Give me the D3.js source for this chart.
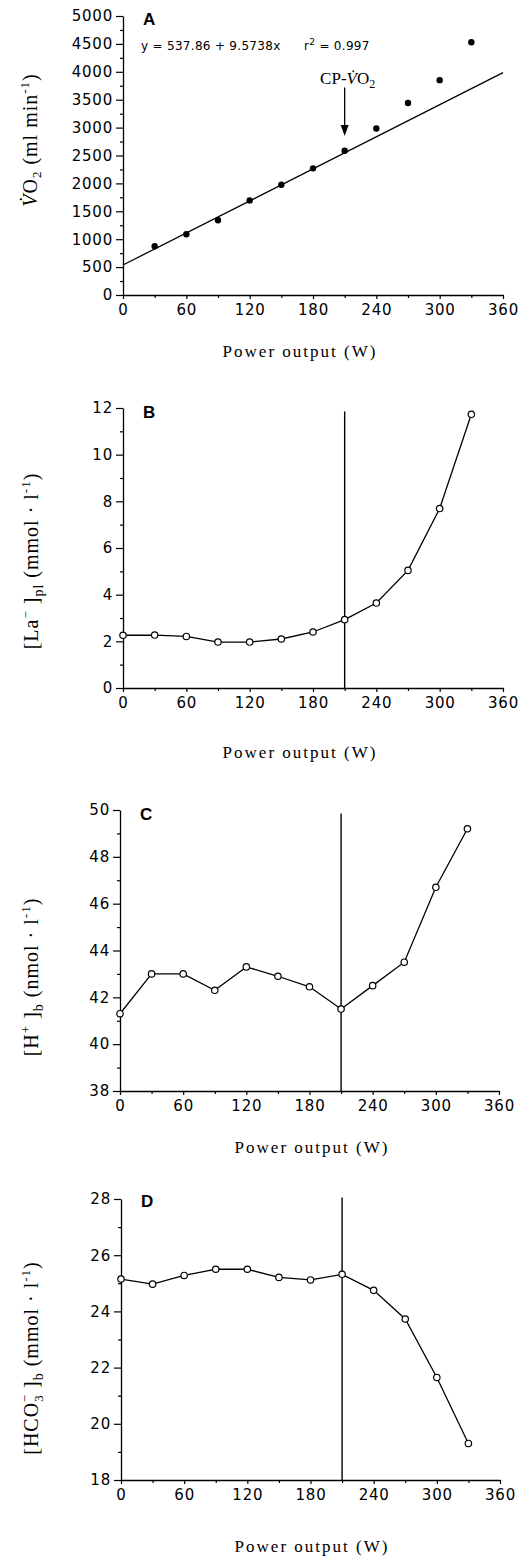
<!DOCTYPE html>
<html><head><meta charset="utf-8">
<script src="https://cdn.jsdelivr.net/npm/d3@7"></script>
<style>body{margin:0;background:#fff}svg{display:block}</style>
</head><body>
<svg id="c" width="524" height="1559"></svg>
<script>
// ---- data ----
const power = [0, 30, 60, 90, 120, 150, 180, 210, 240, 270, 300, 330];
const vo2Power = [30, 60, 90, 120, 150, 180, 210, 240, 270, 300, 330];
const vo2 = [875, 1090, 1340, 1695, 1975, 2270, 2585, 2985, 3440, 3850, 4530];
const lactate = [2.26, 2.27, 2.21, 1.97, 1.97, 2.1, 2.4, 2.93, 3.64, 5.04, 7.69, 11.73];
const hplus = [41.3, 43.0, 43.0, 42.3, 43.3, 42.9, 42.45, 41.5, 42.5, 43.5, 46.7, 49.2];
const bicarb = [25.15, 24.97, 25.28, 25.5, 25.5, 25.21, 25.12, 25.32, 24.75, 23.73, 21.65, 19.3];
const xTicks = [0, 60, 120, 180, 240, 300, 360];
const xMinor = [30, 90, 150, 210, 270, 330];
const vo2Ticks = [0, 500, 1000, 1500, 2000, 2500, 3000, 3500, 4000, 4500, 5000];
const laTicks = [0, 2, 4, 6, 8, 10, 12];
const hTicks = [38, 40, 42, 44, 46, 48, 50];
const hcoTicks = [18, 20, 22, 24, 26, 28];
const regIntercept = 537.86, regSlope = 9.5738;
const cpPower = 210;
const arrowFrom = 3720, arrowTo = 2850;
const xTitle = "Power output (W)";

const svg = d3.select("#c");
const TICKFONT = "'DejaVu Sans', Verdana, sans-serif";
const SERIF = "'Liberation Serif', 'Times New Roman', serif";
const fmt = d3.format("d");

function panel(o) {
  const x = d3.scaleLinear().domain([0, 360]).range([o.left, o.right]);
  const y = d3.scaleLinear().domain(o.yDomain).range([o.bottom, o.top]);
  const g = svg.append("g");
  // minor ticks
  g.append("g").attr("transform", `translate(0,${o.bottom})`)
    .call(d3.axisBottom(x).tickValues(xMinor).tickSize(3).tickFormat(""))
    .call(s => s.select(".domain").remove());
  g.append("g").attr("transform", `translate(${o.left},0)`)
    .call(d3.axisLeft(y).tickValues(o.yMinor).tickSize(3).tickFormat(""))
    .call(s => s.select(".domain").remove());
  const xa = g.append("g").attr("transform", `translate(0,${o.bottom})`)
    .call(d3.axisBottom(x).tickValues(xTicks).tickFormat(fmt).tickSize(4).tickSizeOuter(0).tickPadding(5));
  const ya = g.append("g").attr("transform", `translate(${o.left},0)`)
    .call(d3.axisLeft(y).tickValues(o.yTicks).tickFormat(fmt).tickSize(7).tickSizeOuter(0).tickPadding(3));
  [xa, ya].forEach(a => {
    a.selectAll("text").attr("font-family", TICKFONT).attr("font-size", 15)
      .attr("letter-spacing", 0.8).attr("fill", "#000");
    a.selectAll("line,path").attr("stroke", "#000").attr("stroke-width", 1.3);
  });
  g.selectAll("g.tick line").attr("stroke", "#000").attr("stroke-width", 1.2);
  // x title
  g.append("text").attr("x", o.xTitleX).attr("y", o.xTitleY)
    .attr("text-anchor", "middle").attr("font-family", SERIF).attr("font-size", 17)
    .attr("letter-spacing", 2).text(xTitle);
  // panel letter
  g.append("text").attr("x", o.left + 20).attr("y", o.letterY)
    .attr("font-family", "'Liberation Sans', Arial, sans-serif").attr("font-weight", "bold")
    .attr("font-size", 17).text(o.letter);
  // y title
  const yt = g.append("text")
    .attr("transform", `translate(${o.yTitleX},${o.yTitleY}) rotate(-90)`)
    .attr("text-anchor", "middle").attr("font-family", SERIF).attr("font-size", 20)
    .attr("letter-spacing", 1);
  o.yTitle(yt);
  return {x, y, g};
}

// ---- Panel A ----
{
  const p = panel({left: 123, right: 503, top: 16, bottom: 295, yDomain: [0, 5000],
    yTicks: vo2Ticks, yMinor: d3.range(250, 5000, 500), letter: "A", letterY: 25,
    xTitleX: 300, xTitleY: 357, yTitleX: 37, yTitleY: 140,
    yTitle: t => {
      t.append("tspan").attr("font-style", "italic").text("V\u0307");
      t.append("tspan").text("O");
      t.append("tspan").attr("dy", 4).attr("font-size", 13).text("2");
      t.append("tspan").attr("dy", -4).text(" (ml  min");
      t.append("tspan").attr("dy", -8).attr("font-size", 13).text("-1");
      t.append("tspan").attr("dy", 8).text(")");
    }});
  const {x, y, g} = p;
  g.append("line").attr("x1", x(0)).attr("y1", y(regIntercept))
    .attr("x2", x(360)).attr("y2", y(regIntercept + regSlope * 360))
    .attr("stroke", "#000").attr("stroke-width", 1.3);
  g.selectAll("circle.a").data(vo2Power).join("circle")
    .attr("cx", d => x(d)).attr("cy", (d, i) => y(vo2[i])).attr("r", 3.2).attr("fill", "#000");
  g.append("text").attr("x", 141).attr("y", 50).attr("font-family", TICKFONT)
    .attr("font-size", 12).attr("letter-spacing", 0.3).text("y = 537.86 + 9.5738x");
  const r = g.append("text").attr("x", 304).attr("y", 50).attr("font-family", TICKFONT)
    .attr("font-size", 12).attr("letter-spacing", 0.3);
  r.append("tspan").text("r");
  r.append("tspan").attr("dy", -5).attr("font-size", 9).text("2");
  r.append("tspan").attr("dy", 5).text(" = 0.997");
  // arrow
  g.append("line").attr("x1", x(cpPower)).attr("x2", x(cpPower))
    .attr("y1", y(arrowFrom)).attr("y2", y(arrowTo) - 8).attr("stroke", "#000").attr("stroke-width", 1.3);
  const tipY = y(arrowTo), ax = x(cpPower);
  g.append("path").attr("d", `M${ax - 4},${tipY - 11}L${ax + 4},${tipY - 11}L${ax},${tipY}Z`).attr("fill", "#000");
  const cp = g.append("text").attr("x", ax + 3).attr("y", 84).attr("text-anchor", "middle")
    .attr("font-family", SERIF).attr("font-size", 17);
  cp.append("tspan").text("CP-");
  cp.append("tspan").attr("font-style", "italic").text("V\u0307");
  cp.append("tspan").text("O");
  cp.append("tspan").attr("dy", 4).attr("font-size", 12).text("2");
}

function openSeries(p, vals, lineTop) {
  const {x, y, g} = p;
  g.append("line").attr("x1", x(cpPower)).attr("x2", x(cpPower))
    .attr("y1", y(lineTop)).attr("y2", y.range()[0]).attr("stroke", "#000").attr("stroke-width", 1.4);
  g.append("path").datum(vals).attr("fill", "none").attr("stroke", "#000").attr("stroke-width", 1.3)
    .attr("d", d3.line().x((d, i) => x(power[i])).y(d => y(d)));
  g.selectAll("circle.o").data(vals).join("circle")
    .attr("cx", (d, i) => x(power[i])).attr("cy", d => y(d)).attr("r", 3.2)
    .attr("fill", "#fff").attr("stroke", "#000").attr("stroke-width", 1.2);
}

// ---- Panel B ----
{
  const p = panel({left: 123, right: 503, top: 408, bottom: 688, yDomain: [0, 12],
    yTicks: laTicks, yMinor: [1, 3, 5, 7, 9, 11], letter: "B", letterY: 418,
    xTitleX: 300, xTitleY: 758, yTitleX: 38, yTitleY: 561,
    yTitle: t => {
      t.append("tspan").text("[La");
      t.append("tspan").attr("dy", -8).attr("font-size", 13).text("\u2212");
      t.append("tspan").attr("dy", 8).text(" ]");
      t.append("tspan").attr("dy", 5).attr("font-size", 14).text("pl");
      t.append("tspan").attr("dy", -5).text("  (mmol \u00b7 l");
      t.append("tspan").attr("dy", -8).attr("font-size", 13).text("-1");
      t.append("tspan").attr("dy", 8).text(")");
    }});
  openSeries(p, lactate, 11.85);
}

// ---- Panel C ----
{
  const p = panel({left: 120, right: 499, top: 810, bottom: 1091, yDomain: [38, 50],
    yTicks: hTicks, yMinor: [39, 41, 43, 45, 47, 49], letter: "C", letterY: 820,
    xTitleX: 312, xTitleY: 1153, yTitleX: 38, yTitleY: 977,
    yTitle: t => {
      t.append("tspan").text("[H");
      t.append("tspan").attr("dy", -8).attr("font-size", 13).text("+");
      t.append("tspan").attr("dy", 8).text(" ]");
      t.append("tspan").attr("dy", 5).attr("font-size", 14).text("b");
      t.append("tspan").attr("dy", -5).text(" (nmol \u00b7 l");
      t.append("tspan").attr("dy", -8).attr("font-size", 13).text("-1");
      t.append("tspan").attr("dy", 8).text(")");
    }});
  openSeries(p, hplus, 49.85);
}

// ---- Panel D ----
{
  const p = panel({left: 121, right: 500, top: 1199, bottom: 1480, yDomain: [18, 28],
    yTicks: hcoTicks, yMinor: [19, 21, 23, 25, 27], letter: "D", letterY: 1207,
    xTitleX: 312, xTitleY: 1552, yTitleX: 38, yTitleY: 1358,
    yTitle: t => {
      t.append("tspan").text("[HCO");
      t.append("tspan").attr("dy", 5).attr("font-size", 13).text("3");
      t.append("tspan").attr("dx", -8).attr("dy", -14).attr("font-size", 13).text("\u2212");
      t.append("tspan").attr("dy", 9).text(" ]");
      t.append("tspan").attr("dy", 5).attr("font-size", 14).text("b");
      t.append("tspan").attr("dy", -5).text(" (mmol \u00b7 l");
      t.append("tspan").attr("dy", -8).attr("font-size", 13).text("-1");
      t.append("tspan").attr("dy", 8).text(")");
    }});
  openSeries(p, bicarb, 28.05);
}
</script>
</body></html>
